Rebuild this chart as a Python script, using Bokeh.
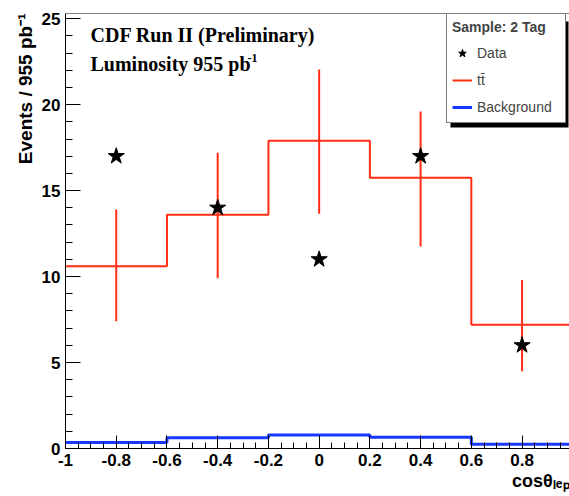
from bokeh.plotting import figure
from bokeh.models import (Range1d, FixedTicker, SingleIntervalTicker, Label, Legend,
                          LegendItem, Span, BoxAnnotation, Title)
from bokeh.embed import file_html
from bokeh.resources import INLINE

# ---------------- data ----------------
bin_edges = [-1.0, -0.6, -0.2, 0.2, 0.6, 1.0]
ttbar = [10.6, 13.6, 17.9, 15.75, 7.2]
ttbar_err_lo = [7.4, 9.9, 13.65, 11.75, 4.5]
ttbar_err_hi = [13.9, 17.2, 22.05, 19.6, 9.8]
background = [0.35, 0.63, 0.78, 0.65, 0.24]
data_x = [-0.8, -0.4, 0.0, 0.4, 0.8]
data_y = [17, 14, 11, 17, 6]
x_ticks = [-1.0, -0.8, -0.6, -0.4, -0.2, 0.0, 0.2, 0.4, 0.6, 0.8, 1.0]
x_tick_labels = ["-1", "-0.8", "-0.6", "-0.4", "-0.2", "0", "0.2", "0.4", "0.6", "0.8", "1"]
y_title = "Events / 955 pb\u207b\u00b9"
x_title = "cos\u03b8\u2097\u2091\u209a"

# ---------------- layout ----------------
W, H = 569, 496
BL, BR, BT, BB = 65, 0, 13, 48
X0, X1 = -1.0, 0.987
Y0, Y1 = 0.0, 25.3
FL, FT = BL, BT
FW, FH = W - BL - BR, H - BT - BB
FB = FT + FH


def px2x(px):
    return X0 + (px - FL) * (X1 - X0) / FW


def py2y(py):
    return Y0 + (FB - py) * (Y1 - Y0) / FH


RED = "#ff2d14"
BLUE = "#1638ff"
SANS = "Liberation Sans"
SERIF = "Liberation Serif"

p = figure(width=W, height=H, output_backend="svg", toolbar_location=None,
           x_range=Range1d(X0, X1), y_range=Range1d(Y0, Y1),
           min_border_left=BL, min_border_right=BR, min_border_top=BT,
           min_border_bottom=BB)
p.outline_line_color = None
p.grid.visible = False
p.background_fill_color = "white"
p.border_fill_color = "white"

# ---------------- glyphs ----------------
centers = [(bin_edges[i] + bin_edges[i + 1]) / 2 for i in range(len(ttbar))]
r_err = p.segment(x0=centers, y0=ttbar_err_lo, x1=centers, y1=ttbar_err_hi,
                  line_color=RED, line_width=2)
r_tt = p.step(x=bin_edges, y=ttbar + [ttbar[-1]], mode="after",
              line_color=RED, line_width=2)
r_bg = p.step(x=bin_edges, y=background + [background[-1]], mode="after",
              line_color=BLUE, line_width=3)
r_data = p.scatter(x=data_x, y=data_y, marker="star", size=17,
                   fill_color="black", line_color="black")

# top frame line
p.add_layout(Span(location=Y1, dimension="width", line_color="black", line_width=1))

# ---------------- axes ----------------
xa = p.xaxis[0]
xa.ticker = FixedTicker(ticks=x_ticks,
                        minor_ticks=[round(-1 + 0.05 * i, 2) for i in range(41)])
xa.major_label_overrides = {t: l for t, l in zip(x_ticks, x_tick_labels)}
xa.major_tick_in = 13
xa.major_tick_out = 0
xa.minor_tick_in = 6
xa.minor_tick_out = 0
xa.major_label_standoff = 5

ya = p.yaxis[0]
ya.ticker = SingleIntervalTicker(interval=5, num_minor_ticks=5)
ya.major_tick_in = 15
ya.major_tick_out = 0
ya.minor_tick_in = 7
ya.minor_tick_out = 0
ya.major_label_standoff = 5

for ax in (xa, ya):
    ax.axis_line_color = "black"
    ax.major_tick_line_color = "black"
    ax.minor_tick_line_color = "black"
    ax.major_label_text_font = SANS
    ax.major_label_text_font_style = "bold"
    ax.major_label_text_font_size = "17px"
    ax.major_label_text_color = "black"

# axis titles (as side titles so they can sit outside the frame)
p.add_layout(Title(text=y_title, align="right", text_font=SANS, text_font_size="19px",
                   text_font_style="bold", text_color="black", standoff=5, offset=0), "left")
p.add_layout(Title(text=x_title, align="right", text_font=SANS, text_font_size="18px",
                   text_font_style="bold", text_color="black", standoff=0, offset=0), "below")

# ---------------- texts inside the frame ----------------
def add_label(text, px, py, font, size, style="bold"):
    p.add_layout(Label(x=px2x(px), y=py2y(py), text=text, text_font=font,
                       text_font_size=size, text_font_style=style,
                       text_color="black", text_align="left",
                       text_baseline="alphabetic"))


add_label("CDF Run II (Preliminary)", 90, 34, SERIF, "20px")
add_label("Luminosity 955 pb", 90, 63, SERIF, "20px")
add_label("-1", 247, 57, SERIF, "12px")

# ---------------- legend ----------------
LEG_L, LEG_T = 446, 17
LEG_W, LEG_H = 118, 106
SH = 4
p.add_layout(BoxAnnotation(left=px2x(LEG_L + SH), right=px2x(LEG_L + LEG_W + SH),
                           top=py2y(LEG_T + SH), bottom=py2y(LEG_T + LEG_H + SH),
                           fill_color="black", fill_alpha=1.0, line_color=None,
                           level="annotation"))

legend = Legend(items=[LegendItem(label="Data", renderers=[r_data]),
                       LegendItem(label="tt\u0304", renderers=[r_tt]),
                       LegendItem(label="Background", renderers=[r_bg])],
                location=(LEG_L - FL, FB - (LEG_T + LEG_H)),
                title="Sample: 2 Tag")
legend.title_text_font = SANS
legend.title_text_font_style = "bold"
legend.title_text_font_size = "14px"
legend.title_standoff = 8
legend.label_text_font = SANS
legend.label_text_font_size = "14px"
legend.label_text_baseline = "middle"
legend.glyph_width = 20
legend.glyph_height = 20
legend.label_height = 20
legend.label_width = 83
legend.label_standoff = 5
legend.spacing = 7
legend.padding = 5
legend.margin = 0
legend.border_line_color = "black"
legend.border_line_width = 1
legend.background_fill_color = "white"
legend.background_fill_alpha = 1.0
p.add_layout(legend)

open("out.html", "w").write(file_html(p, INLINE))
